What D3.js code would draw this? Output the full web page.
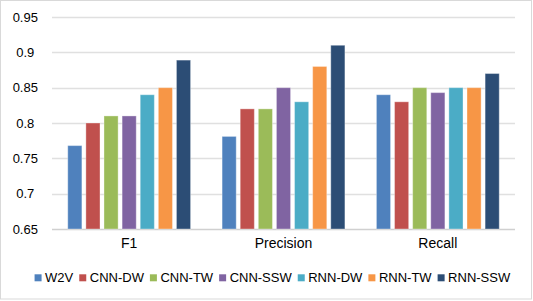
<html>

<head>
    <style>
        body { margin: 0; background: #fff; }
        text { font-family: Arial, "Liberation Sans", sans-serif; fill: #000; }
    </style>
</head>

<body>
    <svg id="container" height="301" width="533">
        <g id="body"></g>
    </svg>
</body>
<script src="https://cdn.jsdelivr.net/npm/d3@7"></script>
<script>
    // data
    let categories = ["F1", "Precision", "Recall"]
    let series = ["W2V", "CNN-DW", "CNN-TW", "CNN-SSW", "RNN-DW", "RNN-TW", "RNN-SSW"]
    let colors = ["#4F81BD", "#C0504D", "#9BBB59", "#8064A2", "#4BACC6", "#F79646", "#2C4D75"]
    let f1Values = [0.768, 0.80, 0.81, 0.81, 0.84, 0.85, 0.889]
    let precisionValues = [0.781, 0.82, 0.82, 0.85, 0.83, 0.88, 0.91]
    let recallValues = [0.84, 0.83, 0.85, 0.843, 0.85, 0.85, 0.87]
    let yTicks = [0.65, 0.7, 0.75, 0.8, 0.85, 0.9, 0.95]

    let svg = d3.select("#container")
    let body = d3.select("#body")

    let valuesByCategory = [f1Values, precisionValues, recallValues]
    let data = categories.map((c, i) => ({
        category: c,
        values: series.map((s, j) => ({ series: s, value: valuesByCategory[i][j] }))
    }))

    // outer frame of the chart
    svg.insert("rect", "#body")
        .attr("x", 0.5).attr("y", 0.5)
        .attr("width", 531).attr("height", 298.5)
        .attr("fill", "#fff")
        .attr("stroke", "#d9d9d9")

    let plotLeft = 52, plotRight = 515, plotTop = 17, plotBottom = 229

    let x0 = d3.scaleBand()
        .domain(categories)
        .range([plotLeft, plotRight])

    let x1 = d3.scaleBand()
        .domain(series)
        .range([0, x0.bandwidth()])
        .paddingInner(0.22)
        .paddingOuter(0.87)

    let y = d3.scaleLinear()
        .domain([0.65, 0.95])
        .range([plotBottom, plotTop])

    let colorScale = d3.scaleOrdinal()
        .domain(series)
        .range(colors)

    // gridlines
    body.selectAll(".grid")
        .data(yTicks)
        .enter()
        .append("line")
        .attr("x1", plotLeft).attr("x2", plotRight)
        .attr("y1", d => Math.round(y(d)) + 0.5)
        .attr("y2", d => Math.round(y(d)) + 0.5)
        .attr("stroke", d => d == 0.65 ? "#d0d0d0" : "#e0e0e0")
        .attr("stroke-width", 1.3)

    // y tick labels
    body.selectAll(".ytick")
        .data(yTicks)
        .enter()
        .append("text")
        .attr("x", 25.3)
        .attr("y", d => y(d))
        .attr("dy", "0.36em")
        .attr("text-anchor", "middle")
        .style("font-size", "13px")
        .text(d => d3.format("")(d))

    // bars
    let groups = body.selectAll(".group")
        .data(data)
        .enter()
        .append("g")
        .attr("transform", d => "translate(" + x0(d.category) + ",0)")

    groups.selectAll("rect")
        .data(d => d.values)
        .enter()
        .append("rect")
        .attr("x", d => x1(d.series))
        .attr("width", x1.bandwidth())
        .attr("y", d => y(d.value))
        .attr("height", d => plotBottom - y(d.value))
        .attr("fill", d => colorScale(d.series))
        .attr("stroke", "#fff")
        .attr("stroke-opacity", 0.35)
        .attr("stroke-width", 1)

    // category labels
    groups.append("text")
        .attr("x", x0.bandwidth() / 2)
        .attr("y", 247.5)
        .attr("text-anchor", "middle")
        .style("font-size", "14px")
        .text(d => d.category)

    // legend, laid out from the measured label widths
    let legendG = body.append("g")
    let items = legendG.selectAll(".legend")
        .data(series)
        .enter()
        .append("g")

    items.append("rect")
        .attr("width", 7)
        .attr("height", 7)
        .attr("y", 274.3)
        .attr("fill", d => colorScale(d))

    items.append("text")
        .attr("x", 10.5)
        .attr("y", 281.7)
        .style("font-size", "13px")
        .text(d => d)

    let pos = 0
    items.each(function () {
        let w = d3.select(this).select("text").node().getComputedTextLength()
        d3.select(this).attr("transform", "translate(" + pos + ",0)")
        pos += 10.5 + w + 6
    })
    let total = pos - 6
    legendG.attr("transform", "translate(" + (272.4 - total / 2) + ",0)")
</script>

</html>
